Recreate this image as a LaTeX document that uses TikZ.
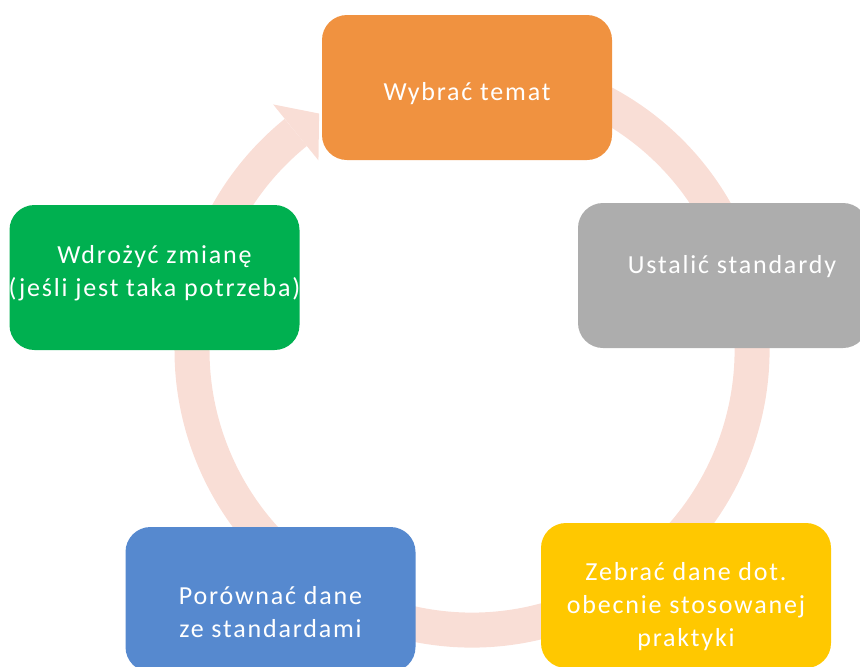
\documentclass[tikz,border=0pt]{standalone}
\usepackage{fontspec}
\setmainfont{Carlito}
\newfontfamily\etapfont{Carlito}[LetterSpace=7]
\usepackage{tikz}
\definecolor{pomarancz}{HTML}{F09240}
\definecolor{szary}{HTML}{ADADAD}
\definecolor{zolty}{HTML}{FFC800}
\definecolor{niebieski}{HTML}{5689CF}
\definecolor{zielony}{HTML}{00B050}
\definecolor{pierscien}{HTML}{F9DED6}
\tikzstyle{etap}=[rectangle, rounded corners=12.5pt, minimum width=145pt, minimum height=72.5pt, inner sep=0pt]
\tikzstyle{opis}=[text=white, font=\etapfont\fontsize{13}{16.5}\selectfont, align=center, inner sep=0pt]

\begin{document}
\begin{tikzpicture}[x=0.5pt, y=-0.5pt]
			\useasboundingbox (0,0) rectangle (860,666);
			\coordinate (ctr) at (472,350);
			\coordinate (grot) at ([shift={(129:140pt)}, shift={(39:15pt)}]ctr);
			% pierscien ze strzalka
			\draw[pierscien, line width=17.5pt] ([shift={(110:140pt)}]ctr) arc[start angle=110, end angle=-231, radius=140pt];
			\fill[pierscien] ([shift={(129:158pt)}]ctr) -- (grot) -- ([shift={(129:122pt)}]ctr) -- cycle;
			\node[etap, fill=pomarancz] (temat) at (467,87.5) {};
			\node[etap, fill=szary] (standard) at (723,275.5) {};
			\node[etap, fill=zolty] (dane) at (686,595.5) {};
			\node[etap, fill=niebieski] (porownanie) at (270.5,599.5) {};
			\node[etap, fill=zielony] (zmiana) at (154.5,277.5) {};
			\node[opis] (temat-t) at ([yshift=-3pt]temat.center) {Wybrać temat};
			\node[opis] (standard-t) at ([xshift=4.5pt, yshift=4.5pt]standard.center) {Ustalić standardy};
			\node[opis] (dane-t) at ([yshift=-5.5pt]dane.center) {Zebrać dane dot.\\obecnie stosowanej\\praktyki};
			\node[opis] (porownanie-t) at ([yshift=-6.5pt]porownanie.center) {Porównać dane\\ze standardami};
			\node[opis] (zmiana-t) at ([yshift=2pt]zmiana.center) {Wdrożyć zmianę\\(jeśli jest taka potrzeba)};
		\end{tikzpicture}
\end{document}
